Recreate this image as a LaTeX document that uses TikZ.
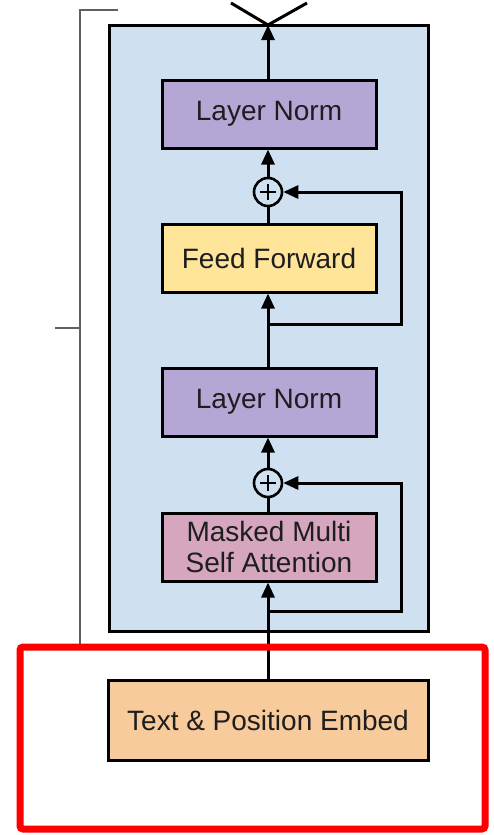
\documentclass[tikz,border=0pt]{standalone}
\usepackage{fontspec}
\setmainfont{Liberation Sans}
\usetikzlibrary{arrows.meta}
\definecolor{blockblue}{RGB}{207,224,241}
\definecolor{normpurple}{RGB}{180,167,214}
\definecolor{ffyellow}{RGB}{255,229,153}
\definecolor{attnpink}{RGB}{213,166,189}
\definecolor{embedorange}{RGB}{248,203,156}
\definecolor{txt}{RGB}{30,30,30}
\definecolor{brack}{RGB}{95,95,95}
\tikzset{
  layerbox/.style={draw=black, line width=3pt, minimum width=214pt, minimum height=68pt, inner sep=0pt, font=\fontsize{28}{31}\selectfont, text=txt, align=center},
  plusnode/.style={draw=black, circle, line width=2.6pt, minimum size=28pt, inner sep=0pt,
    path picture={\draw[line width=2.6pt] ([xshift=-8pt]path picture bounding box.center) -- ([xshift=8pt]path picture bounding box.center);
                  \draw[line width=2.6pt] ([yshift=-8pt]path picture bounding box.center) -- ([yshift=8pt]path picture bounding box.center);}},
  conn/.style={line width=3pt, draw=black},
  arr/.style={conn, -{Triangle[length=15pt,width=13pt]}},
}
\begin{document}
\begin{tikzpicture}[x=1pt,y=-1pt]
\useasboundingbox (0,0) rectangle (493,835);
% bracket
\draw[brack, line width=2pt] (118,10) -- (80,10) -- (80,645);
\draw[brack, line width=2pt] (55,328) -- (80,328);
% decoder block
\draw[draw=black, line width=3pt, fill=blockblue] (109,25) rectangle (428,631);
% nodes
\node[layerbox, fill=normpurple] (ln1) at (269,114) {Layer Norm};
\node[plusnode] (p1) at (268,192) {};
\node[layerbox, fill=ffyellow] (ff) at (269,258) {Feed Forward};
\node[layerbox, fill=normpurple] (ln2) at (269,402) {Layer Norm};
\node[plusnode] (p2) at (268,483) {};
\node[layerbox, fill=attnpink] (msa) at (269,547) {Masked Multi\\Self Attention};
\node[layerbox, fill=embedorange, minimum width=320pt, minimum height=80pt] (emb) at (268,720) {Text \& Position Embed};
% coordinates
\coordinate (top) at (268,25);
\coordinate (tl) at (231,3);
\coordinate (tr) at (307,3);
\coordinate (b1) at (268,324);
\coordinate (r1) at (401,324);
\coordinate (r1t) at (401,192);
\coordinate (b2) at (268,611);
\coordinate (r2) at (401,611);
\coordinate (r2t) at (401,483);
% connectors
\draw[arr] (ln1.north -| top) -- (top);
\draw[conn] (tl) -- (top) -- (tr);
\draw[arr] (p1.north) -- (ln1.south -| p1);
\draw[conn] (ff.north -| p1) -- (p1.south);
\draw[arr] (ln2.north -| b1) -- (ff.south -| b1);
\draw[arr] (b1) -- (r1) -- (r1t) -- (p1.east);
\draw[arr] (p2.north) -- (ln2.south -| p2);
\draw[conn] (msa.north -| p2) -- (p2.south);
\draw[arr] (emb.north) -- (msa.south -| emb);
\draw[arr] (b2) -- (r2) -- (r2t) -- (p2.east);
% highlight
\draw[red, line width=7pt, rounded corners=3pt] (20,647) rectangle (485,829);
\end{tikzpicture}
\end{document}
